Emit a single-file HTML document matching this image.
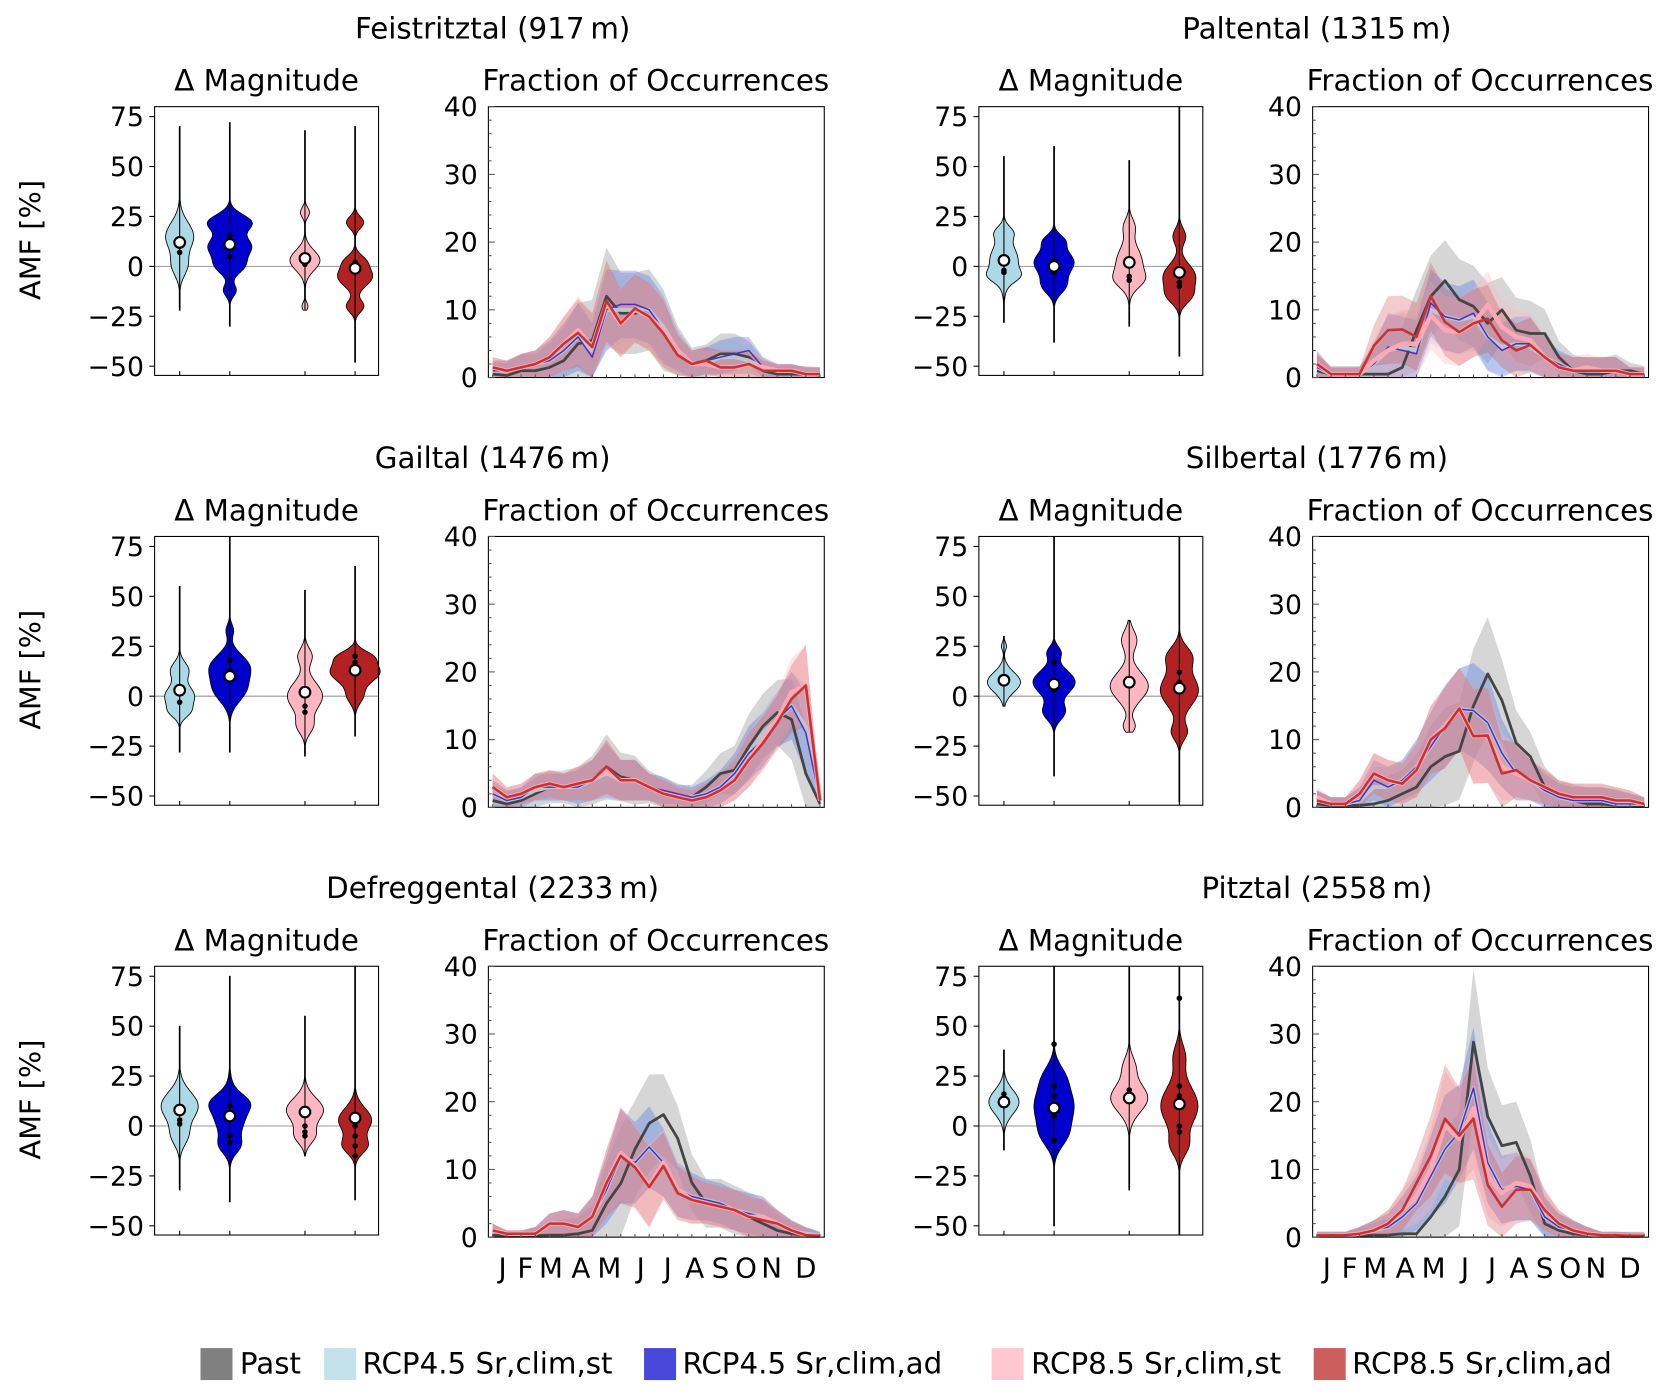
<!DOCTYPE html>
<html><head><meta charset="utf-8"><style>
html,body{margin:0;padding:0;background:#fff;}
svg{display:block;font-family:"DejaVu Sans","Liberation Sans",sans-serif;}
</style></head><body>
<svg id="fig" width="1672" height="1395" viewBox="0 0 1568 1308" preserveAspectRatio="none" xmlns="http://www.w3.org/2000/svg">
<rect x="0" y="0" width="1568" height="1308" fill="#fff"/>
<text x="38" y="225" font-size="27" text-anchor="middle" transform="rotate(-90 38 225)">AMF [%]</text>
<text x="38" y="628" font-size="27" text-anchor="middle" transform="rotate(-90 38 628)">AMF [%]</text>
<text x="38" y="1031" font-size="27" text-anchor="middle" transform="rotate(-90 38 1031)">AMF [%]</text>
<g>
<rect x="188" y="1264" width="30" height="30" fill="#808080"/>
<text x="225" y="1288" font-size="27.5">Past</text>
<rect x="304" y="1264" width="30" height="30" fill="#c4e2eb"/>
<text x="340" y="1288" font-size="27.5">RCP4.5 Sr,clim,st</text>
<rect x="604" y="1264" width="30" height="30" fill="#4848dc"/>
<text x="640" y="1288" font-size="27.5">RCP4.5 Sr,clim,ad</text>
<rect x="930" y="1264" width="30" height="30" fill="#ffc8d0"/>
<text x="967" y="1288" font-size="27.5">RCP8.5 Sr,clim,st</text>
<rect x="1232" y="1264" width="30" height="30" fill="#cc5e5e"/>
<text x="1268" y="1288" font-size="27.5">RCP8.5 Sr,clim,ad</text>
</g>
</svg>
<script>
// ---------- data ----------
const panelTitles = ["Feistritztal (917\u2009m)","Paltental (1315\u2009m)","Gailtal (1476\u2009m)","Silbertal (1776\u2009m)","Defreggental (2233\u2009m)","Pitztal (2558\u2009m)"];
const monthLabels = ["J","F","M","A","M","J","J","A","S","O","N","D"];
const monthTickIdx = [0.7,2.3,4.1,6.2,8.2,10.4,12.3,14.2,16,17.8,19.6,22];
const violinTicks = [-50,-25,0,25,50,75];
const fracTicks = [0,10,20,30,40];

const feistritzPast = [0.5,0.3,1,1,1.5,2.5,5,5.5,12,9.5,9.5,10,7,4,2,2.5,3.5,3.5,3,1,0.5,0.5,0.5,0.3];
const feistritz45st = [1,1,1.5,2,2.5,4,6,4,10,10,10,10,7.5,4,2,2,3,3,2.5,1.5,1,1,0.5,0.5];
const feistritz45ad = [1,1,1.5,2,2.5,4,6,3,10,10.8,10.8,10,7,4,2,2.5,3,3.5,4,1.5,1,1,0.5,0.5];
const feistritz85st = [1.5,1,1.5,2,3,5,7,4.5,11,8,10,9,7,4,2,2,1.5,1.5,2,1.5,1,1,0.5,0.5];
const feistritz85ad = [1.5,1,1.5,2,3,5,6.6,4.5,11.3,8,10.2,9,6.5,3.3,2,2.5,1.5,1.5,2,1,1,1,0.5,0.5];
const feistritzSpread = [1.5,1.5,2,2,3,4,5,5,6,5,5,5,5,3,2,2,2.5,2.5,2,1.5,1,1,1,1];

const paltenPast = [1,0.5,0.5,0.5,0.5,0.5,1.5,7,12,14.3,11.5,10.5,8,10,7,6.5,6.5,3,1,0.5,0.5,1,1,0.5];
const palten45st = [1.5,0.5,0.5,0.5,2,4,4.5,4,10,9,8.5,9,6,4.5,5,4.5,3,2,1,1,1,1,0.5,0.5];
const palten45ad = [1.5,0.5,0.5,0.5,2,4.5,4,3.5,11,9,8.5,9.5,6,4,5,5,3,2,1,1,1,1,0.5,0.5];
const palten85st = [2,0.5,0.5,0.5,2.5,4,5,5,9.2,7,6.7,8,10.7,7.5,6,5.5,3,1.5,1,1.5,1,1,0.5,0.5];
const palten85ad = [2,0.5,0.5,0.5,4.7,7,7.1,6,12,8.2,6.7,8,8.7,5.5,4,4.8,3,1.5,1,1,1,1,0.5,0.5];
const paltenSpread = [2,1,1,1,3,5,5,5,5,5,5,5,5,4,4,4,3,2,2,2,2,2,1,1];

const gailPast = [1,0.5,1,2,3,3,3,4,6,4.5,4,3,2,1.5,1.5,3,5,5.5,9,12,14,13,5,0.5];
const gail45st = [2,1,1.5,2.5,3,3,3,4,5,4,4,3,2,1.5,1.5,2,3,5,8,11,13,15,12,1];
const gail45ad = [2,1,1.5,3,3,3,3,4,5.5,4,4,3,2.5,2,1.5,2,3,5,8,10,13,15,11,1];
const gail85st = [3,1.5,2,3,3.5,3,3.5,4,5.5,4,4,3,2,1.5,1,1.5,2.5,4,7,10,13,17,18,1];
const gail85ad = [3,1.5,2,3,3.5,3,3.5,4,6,4,4,3,2,1.5,1,1.5,2.5,4,7,9.5,12.5,16,18,1];
const gailSpread = [2,1.5,1.5,2,2,2,2.5,3,4,3,3,2,2,1.5,1.5,2,2.5,3,4,4,4,5,6,1];

const silberPast = [0.5,0.3,0.3,0.3,0.5,1,2,3,6,7.5,8.3,15,19.7,15.8,9.5,7.5,3,1.5,1,0.5,0.5,0.3,0.3,0.2];
const silber45st = [1,0.5,0.5,1,3,3,4,6,9,12,14.5,14.3,12.5,8,5,4,2.5,1.5,1,1,1,0.5,0.5,0.5];
const silber45ad = [1,0.5,0.5,1,4,3,4,6,9,12,14.5,14.3,12.5,8,5,4,2.5,1.5,1,1,1,0.5,0.5,0.5];
const silber85st = [1.5,0.5,0.5,2,5,4,3.5,5.5,10,12,14.6,10.5,10.6,6,5,4,3,2,1.5,1.5,1.5,1,1,0.5];
const silber85ad = [1,0.5,0.5,2,5,4,3.5,5.5,10,11.7,14.6,10.5,10.6,5,5.5,4,3,2,1.5,1.5,1.5,1,1,0.5];
const silberSpread = [1.5,1,1,2,3,3,3,4,5,6,6,7,7,5,4,3,2.5,2,2,2,2,2,1.5,1];

const defregPast = [0.3,0.2,0.2,0.2,0.3,0.3,0.5,1,5,7.9,13,16.8,18.1,14.6,8,5,5,4,3,2,1,0.5,0.3,0.2];
const defreg45st = [1,0.5,0.5,0.5,2,2,1.5,3,7,12,11,13.3,11,7,6,5.5,5,4,3.5,3,2,1,0.5,0.3];
const defreg45ad = [1,0.5,0.5,0.5,2,2,1.5,3,7,12,11,13.3,11,7,6,5.5,5,4,3.5,3,2,1,0.5,0.3];
const defreg85st = [1,0.5,0.5,0.5,2,2,1.5,3,8,12.4,10.5,7.6,11,7,5.5,5,4.5,4,3,3,2,1,0.3,0.2];
const defreg85ad = [1,0.5,0.5,0.5,2,2,1.5,3,8,12,10.3,7.4,10.5,6.5,5.5,5,4.5,4,3,2.5,2,1,0.3,0.2];
const defregSpread = [1,0.5,0.5,1,1.5,2,2,3,5,7,6,6,5,4,3.5,3,3,3,3,3,2,1.5,1,0.5];

const pitzPast = [0.2,0.2,0.2,0.2,0.3,0.3,0.5,0.5,3,6,10,28.8,17.8,13.5,14,9,2,1,0.5,0.3,0.2,0.2,0.2,0.2];
const pitz45st = [0.3,0.3,0.3,0.5,1,1.5,3,5,9,13,15.5,22,11,7,7.5,7,3,1.5,1,0.5,0.3,0.3,0.2,0.2];
const pitz45ad = [0.3,0.3,0.3,0.5,1,1.5,3,5,9,13,15.5,22,11,7,7.5,7,3,1.5,1,0.5,0.3,0.3,0.2,0.2];
const pitz85st = [0.3,0.3,0.3,0.5,1,2,4,6,10,16.5,14.5,19,9,6.5,8,7.5,4,2,1,0.5,0.3,0.3,0.2,0.2];
const pitz85ad = [0.3,0.3,0.3,0.5,1,2,4,8,12,17.5,15,17.5,7.7,4.5,7,7,4,2,1,0.5,0.3,0.3,0.2,0.2];
const pitzSpread = [0.5,0.5,0.5,1,1.5,2,3,4,6,8,7,9,6,5,5,4.5,3,2,1.5,1,0.5,0.5,0.5,0.5];

// violins: lo/hi extent, modes [centre, sigma, weight], width (x units), median, dots
const feistritzViolins = [
 {lo:-22,hi:70,modes:[[15,7,1],[0,5,0.5]],width:0.28,median:12,dots:[7,10]},
 {lo:-30,hi:72,modes:[[22,4,1],[10,5,1],[0,4,0.6],[-12,3,0.3]],width:0.45,median:11,dots:[5,15]},
 {lo:-22,hi:68,modes:[[3,5,1],[27,2.5,0.3],[-20,2,0.2]],width:0.3,median:4,dots:[1,3]},
 {lo:-48,hi:70,modes:[[-5,5,1],[22,3,0.5],[-20,3,0.5],[3,3,0.4]],width:0.35,median:-1,dots:[2]}];
const paltenViolins = [
 {lo:-28,hi:55,modes:[[3,8,1],[17,3,0.5],[-5,3,0.6]],width:0.35,median:3,dots:[-2,-3]},
 {lo:-38,hi:60,modes:[[2,6,1],[-10,4,0.5],[13,3,0.4]],width:0.4,median:0,dots:[-3,3]},
 {lo:-30,hi:53,modes:[[2,8,1],[-7,4,0.7],[20,4,0.4]],width:0.33,median:2,dots:[-5,-7]},
 {lo:-45,hi:82,modes:[[-5,6,1],[-15,4,0.6],[15,4,0.4]],width:0.33,median:-3,dots:[-8,-10]}];
const gailViolins = [
 {lo:-28,hi:55,modes:[[0,5,1],[13,4,0.6],[-8,3,0.5]],width:0.3,median:3,dots:[-3,2]},
 {lo:-28,hi:82,modes:[[15,6,1],[3,6,0.8],[33,3,0.2]],width:0.42,median:10,dots:[13,18]},
 {lo:-30,hi:53,modes:[[0,7,1],[20,4,0.4],[-15,4,0.4]],width:0.35,median:2,dots:[-5,-8]},
 {lo:-20,hi:65,modes:[[12,5,1],[20,3,0.5],[0,4,0.3]],width:0.5,median:13,dots:[17,20]}];
const silberViolins = [
 {lo:-5,hi:30,modes:[[7,5,1],[25,2,0.15]],width:0.33,median:8,dots:[]},
 {lo:-40,hi:82,modes:[[7,6,1],[-8,4,0.5],[22,3,0.3]],width:0.42,median:6,dots:[3,17]},
 {lo:-18,hi:38,modes:[[5,7,1],[-15,3,0.3],[28,5,0.4]],width:0.38,median:7,dots:[6]},
 {lo:-53,hi:82,modes:[[3,8,1],[20,5,0.6],[-18,4,0.4]],width:0.38,median:4,dots:[7,12]}];
const defregViolins = [
 {lo:-32,hi:50,modes:[[10,7,1],[-5,5,0.4]],width:0.37,median:8,dots:[1,3]},
 {lo:-38,hi:75,modes:[[5,9,1],[-10,4,0.5],[12,4,0.6]],width:0.42,median:5,dots:[-5,-8,10]},
 {lo:-15,hi:55,modes:[[8,6,1],[-5,4,0.5]],width:0.37,median:7,dots:[-3,-5,0]},
 {lo:-37,hi:82,modes:[[3,6,1],[-10,4,0.7]],width:0.33,median:4,dots:[-5,-10,-15,0]}];
const pitzViolins = [
 {lo:-12,hi:38,modes:[[12,6,1]],width:0.3,median:12,dots:[16]},
 {lo:-50,hi:82,modes:[[10,9,1],[-5,6,0.5],[25,6,0.4]],width:0.4,median:9,dots:[-7,5,15,20,41]},
 {lo:-32,hi:82,modes:[[14,7,1],[30,5,0.3]],width:0.37,median:14,dots:[18]},
 {lo:-55,hi:82,modes:[[10,10,1],[-10,5,0.4],[35,6,0.3]],width:0.37,median:11,dots:[-3,0,15,20,64]}];

const violinPositions = [1,2,3.5,4.5];

const panelLines = [
 [feistritzPast,feistritz45st,feistritz45ad,feistritz85st,feistritz85ad],
 [paltenPast,palten45st,palten45ad,palten85st,palten85ad],
 [gailPast,gail45st,gail45ad,gail85st,gail85ad],
 [silberPast,silber45st,silber45ad,silber85st,silber85ad],
 [defregPast,defreg45st,defreg45ad,defreg85st,defreg85ad],
 [pitzPast,pitz45st,pitz45ad,pitz85st,pitz85ad]];
const panelSpreads = [feistritzSpread,paltenSpread,gailSpread,silberSpread,defregSpread,pitzSpread];
const panelViolins = [feistritzViolins,paltenViolins,gailViolins,silberViolins,defregViolins,pitzViolins];

// ---------- styles ----------
const seriesKeys = ["past","rcp45-st","rcp45-ad","rcp85-st","rcp85-ad"];
const bandFill = ["#808080","#add8e6","#4a5ae0","#ffb6c1","#d04848"];
const bandOp = [0.32,0.35,0.28,0.35,0.28];
const lineCol = ["#444444","#b8c8d2","#4a2fc0","#ffa8b4","#c83232"];
const lineW = [2.6,3.6,1.4,4.2,2.4];
const violinFill = ["#add8e6","#0000cd","#ffb6c1","#b22222"];

const NS = "http://www.w3.org/2000/svg";
const svg = document.getElementById("fig");
function mk(tag, attrs, parent){
  const e = document.createElementNS(NS, tag);
  for (const k in attrs) e.setAttribute(k, attrs[k]);
  (parent||svg).appendChild(e);
  return e;
}

panelTitles.forEach((title, p) => {
  const col = p % 2, row = Math.floor(p / 2);
  const ox = col * 773, oy = row * 403;
  const g = mk("g", {});
  
  

  const t = mk("text", {x: 462+ox, y: 36+oy, "font-size": 27.5, "text-anchor": "middle"}, g);
  t.textContent = title;
  
  

  // ---- violin axes ----
  const VL = 145+ox, VR = 355+ox, VT = 100+oy, VB = 352+oy;
  const vy = v => VT + (80 - v) * 1.872;
  const vx = x => VL + (x - 0.5) * 47;
  const st = mk("text", {x: 250+ox, y: 85+oy, "font-size": 27.5, "text-anchor": "middle"}, g);
  st.textContent = "\u0394 Magnitude";
  
  
  const zl = mk("line", {x1: VL, x2: VR, y1: vy(0), y2: vy(0), stroke: "#999", "stroke-width": 1}, g);
  
  

  panelViolins[p].forEach((v, i) => {
    const cx = vx(violinPositions[i]);
    const dens = y => v.modes.reduce((s, m) => s + m[2] * Math.exp(-0.5 * ((y - m[0]) / m[1]) ** 2), 0);
    let mx = 0;
    for (let y = v.lo; y <= v.hi; y += 0.5) mx = Math.max(mx, dens(y));
    const right = [], left = [];
    for (let y = v.lo; y <= v.hi; y += 0.5) {
      const w = Math.max(0.4, v.width * 47 * dens(y) / mx);
      const yy = Math.max(VT, Math.min(VB, vy(y)));
      right.push((cx + w).toFixed(1) + "," + yy.toFixed(1));
      left.unshift((cx - w).toFixed(1) + "," + yy.toFixed(1));
    }
    const body = mk("polygon", {points: right.concat(left).join(" "), fill: violinFill[i], stroke: "#000", "stroke-width": 0.8}, g);
    
    
    const wl = mk("line", {x1: cx, x2: cx, y1: Math.max(VT, vy(v.hi)), y2: Math.min(VB, vy(v.lo)), stroke: "#000", "stroke-width": 1}, g);
    
    
    v.dots.forEach(d => {
      const c = mk("circle", {cx: cx, cy: vy(d), r: 2.6, fill: "#000"}, g);
      
      
    });
    const med = mk("circle", {cx: cx, cy: vy(v.median), r: 5, fill: "#fff", stroke: "#000", "stroke-width": 2}, g);
    
    
    const xt = mk("line", {x1: cx, x2: cx, y1: VB, y2: VB - 4, stroke: "#000", "stroke-width": 1}, g);
    
    
  });
  const vbox = mk("rect", {x: VL, y: VT, width: VR-VL, height: VB-VT, fill: "none", stroke: "#000", "stroke-width": 1}, g);
  
  
  violinTicks.forEach(tv => {
    const tk = mk("line", {x1: VL-5, x2: VL, y1: vy(tv), y2: vy(tv), stroke: "#000", "stroke-width": 1}, g);
    
    
    const tl = mk("text", {x: VL-10, y: vy(tv)+9, "font-size": 25, "text-anchor": "end"}, g);
    tl.textContent = tv < 0 ? "\u2212" + Math.abs(tv) : String(tv);
    
    
  });

  // ---- fraction axes ----
  const LL = 458+ox, LR = 773+ox, LT = 100+oy, LB = 354+oy;
  const lx = i => LL + 4 + i * (LR - LL - 8) / 23;
  const ly = v => LB - v * 6.35;
  const ft = mk("text", {x: 615+ox, y: 85+oy, "font-size": 27.5, "text-anchor": "middle"}, g);
  ft.textContent = "Fraction of Occurrences";
  
  

  const series = panelLines[p], spread = panelSpreads[p];
  series.forEach((vals, s) => {
    const k = s === 0 ? 1.2 : 1;
    const up = vals.map((v, i) => lx(i).toFixed(1) + "," + Math.max(LT, ly(v + spread[i]*k)).toFixed(1));
    const dn = vals.map((v, i) => lx(i).toFixed(1) + "," + ly(Math.max(0, v - spread[i]*k)).toFixed(1)).reverse();
    const band = mk("polygon", {points: up.concat(dn).join(" "), fill: bandFill[s], "fill-opacity": bandOp[s]}, g);
    
    
  });
  series.forEach((vals, s) => {
    const pts = vals.map((v, i) => lx(i).toFixed(1) + "," + ly(v).toFixed(1)).join(" ");
    const ln = mk("polyline", {points: pts, fill: "none", stroke: lineCol[s], "stroke-width": lineW[s], "stroke-linejoin": "round"}, g);
    
    
  });
  const lbox = mk("rect", {x: LL, y: LT, width: LR-LL, height: LB-LT, fill: "none", stroke: "#000", "stroke-width": 1}, g);
  
  
  for (let v = 0; v <= 40; v += 2) {
    const major = v % 10 === 0;
    const tk = mk("line", {x1: LL, x2: LL + (major ? 6 : 3), y1: ly(v), y2: ly(v), stroke: "#555", "stroke-width": 1}, g);
    
    
  }
  fracTicks.forEach(tv => {
    const tl = mk("text", {x: LL-10, y: ly(tv)+9, "font-size": 25, "text-anchor": "end"}, g);
    tl.textContent = String(tv);
    
    
  });
  for (let i = 0; i < 24; i++) {
    const tk = mk("line", {x1: lx(i), x2: lx(i), y1: LB, y2: LB-3, stroke: "#555", "stroke-width": 1}, g);
    
    
  }
  if (row === 2) {
    monthLabels.forEach((m, j) => {
      const ml = mk("text", {x: lx(monthTickIdx[j]), y: 1198, "font-size": 26, "text-anchor": "middle"}, g);
      ml.textContent = m;
      
      
    });
  }
});
</script>
</body></html>
